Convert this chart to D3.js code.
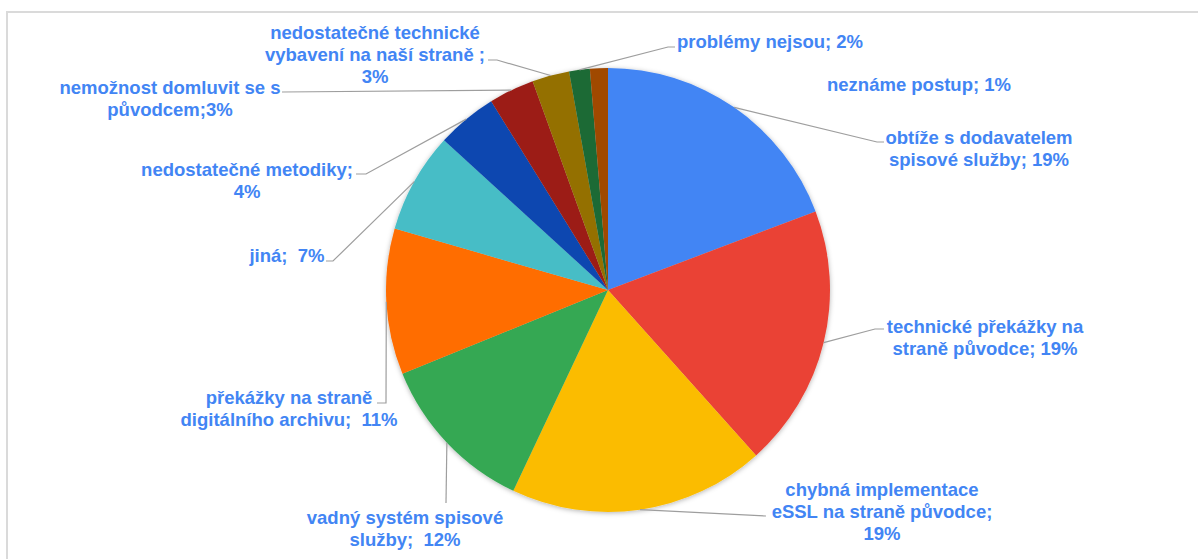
<!DOCTYPE html>
<html>
<head>
<meta charset="utf-8">
<script src="https://cdn.jsdelivr.net/npm/d3@7"></script>
<style>
  body { margin: 0; background: #fff; }
  svg { display: block; }
</style>
</head>
<body>
<svg id="chart" width="1198" height="559"></svg>
<script>
// slice data, clockwise from 12 o'clock
var categories = [
    "obtíže s dodavatelem spisové služby",
    "technické překážky na straně původce",
    "chybná implementace eSSL na straně původce",
    "vadný systém spisové služby",
    "překážky na straně digitálního archivu",
    "jiná",
    "nedostatečné metodiky",
    "nemožnost domluvit se s původcem",
    "nedostatečné technické vybavení na naší straně",
    "problémy nejsou",
    "neznáme postup"
];
var values = [19.2, 19.1, 18.6, 11.8, 10.6, 7.3, 4.4, 3.3, 2.7, 1.5, 1.3];
var labelLines = [
    ["obtíže s dodavatelem", "spisové služby; 19%"],
    ["technické překážky na", "straně původce; 19%"],
    ["chybná implementace", "eSSL na straně původce;", "19%"],
    ["vadný systém spisové", "služby;  12%"],
    ["překážky na straně", "digitálního archivu;  11%"],
    ["jiná;  7%"],
    ["nedostatečné metodiky;", "4%"],
    ["nemožnost domluvit se s", "původcem;3%"],
    ["nedostatečné technické", "vybavení na naší straně ;", "3%"],
    ["problémy nejsou; 2%"],
    ["neznáme postup; 1%"]
];
var colors = ["#4285f4", "#ea4335", "#fbbc04", "#34a853", "#ff6d01", "#46bdc6",
              "#0d47b0", "#9c1b14", "#947000", "#1f6a34", "#a04806"];

// label placement (text position + leader elbow/end)
var labelLayout = [
    { x: 979, y: 138, anchor: "middle", pts: [[877, 142], [884, 142]] },
    { x: 985, y: 327, anchor: "middle", pts: [[875, 329], [884, 329]] },
    { x: 882, y: 490, anchor: "middle", pts: [[766, 516]] },
    { x: 405, y: 518, anchor: "middle", pts: [[446, 503]] },
    { x: 289, y: 398, anchor: "middle", pts: [[386, 403], [377, 403]] },
    { x: 287, y: 256, anchor: "middle", pts: [[333, 261], [326, 261]] },
    { x: 247, y: 170, anchor: "middle", pts: [[366, 174], [356, 174]] },
    { x: 170, y: 88, anchor: "middle", pts: [[282, 92]] },
    { x: 375, y: 33, anchor: "middle", pts: [[497, 60], [488, 60]] },
    { x: 677, y: 42, anchor: "start", pts: [[668, 47], [675, 47]] },
    { x: 919, y: 85, anchor: "middle", pts: null }
];

var cx = 608, cy = 290, radius = 222, lineH = 22;

var svg = d3.select("#chart");

// chart frame
svg.append("rect")
    .attr("x", 7)
    .attr("y", 12)
    .attr("width", 1300)
    .attr("height", 700)
    .attr("fill", "#fff")
    .attr("stroke", "#dadada")
    .attr("stroke-width", 2);

var defs = svg.append("defs");
defs.append("filter")
    .attr("id", "shadow")
    .attr("x", "-10%").attr("y", "-10%")
    .attr("width", "120%").attr("height", "120%")
    .append("feDropShadow")
    .attr("dx", 0)
    .attr("dy", 1)
    .attr("stdDeviation", 2.5)
    .attr("flood-color", "#000")
    .attr("flood-opacity", 0.3);

var pie = d3.pie().sort(null).value(function(d) { return d; });
var arcs = pie(values);

var arc = d3.arc().innerRadius(0).outerRadius(radius);
var edgeArc = d3.arc().innerRadius(radius).outerRadius(radius);

var graph = svg.append("g")
    .attr("transform", "translate(" + cx + "," + cy + ")");

graph.append("g")
    .attr("filter", "url(#shadow)")
    .selectAll("path")
    .data(arcs)
    .enter()
    .append("path")
    .attr("d", arc)
    .attr("fill", function(d, i) { return colors[i]; });

// leader lines
var line = d3.line();
arcs.forEach(function(d, i) {
    var lay = labelLayout[i];
    if (!lay.pts) return;
    var p0 = edgeArc.centroid(d);
    var pts = [[p0[0] + cx, p0[1] + cy]].concat(lay.pts);
    svg.append("path")
        .attr("d", line(pts))
        .attr("fill", "none")
        .attr("stroke", "#9e9e9e")
        .attr("stroke-width", 1.2);
});

// labels
labelLines.forEach(function(lines, i) {
    var lay = labelLayout[i];
    var t = svg.append("text")
        .attr("text-anchor", lay.anchor)
        .attr("fill", "#4285f4")
        .attr("font-family", "Arial, 'Liberation Sans', sans-serif")
        .attr("font-weight", "bold")
        .attr("font-size", "18.5px")
        .style("white-space", "pre");
    lines.forEach(function(s, j) {
        t.append("tspan")
            .attr("x", lay.x)
            .attr("y", lay.y + j * lineH)
            .attr("dy", "0.35em")
            .text(s);
    });
});
</script>
</body>
</html>
